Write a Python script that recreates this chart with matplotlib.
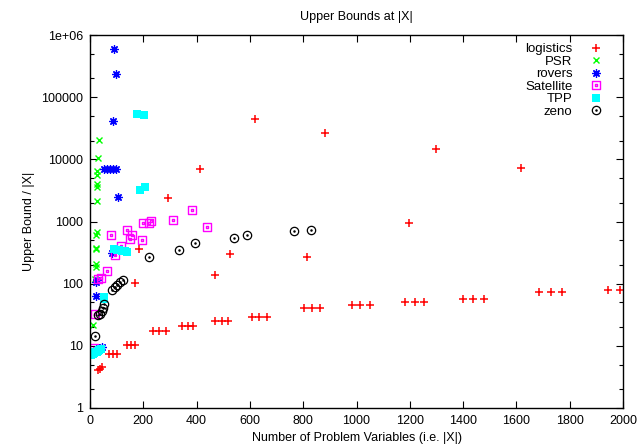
import numpy as np
import matplotlib
matplotlib.use('Agg')
import matplotlib.pyplot as plt
from matplotlib.path import Path
from matplotlib.ticker import LogLocator, FixedLocator, NullFormatter

plt.rcParams['font.family'] = ['Liberation Sans', 'DejaVu Sans']
plt.rcParams['font.size'] = 9

# ---------------- data ----------------
logistics_x = [29, 37, 45, 70, 85, 100, 140, 155, 170, 238, 260, 284,
               345, 367, 386, 469, 497, 518, 608, 633, 664, 803, 833, 863,
               983, 1013, 1050, 1182, 1218, 1254, 1399, 1439, 1478,
               1686, 1730, 1772, 1944, 1987,
               621, 882, 413, 293, 527, 469, 813, 1297, 1616, 1196, 184, 169]
logistics_y = [4.1, 4.3, 4.5, 7.3, 7.4, 7.4, 10.2, 10.2, 10.2, 17.3, 17.3, 17.3,
               21, 21, 21, 25.4, 25.4, 25.4, 29.4, 29.4, 29.4, 41, 41, 41,
               46, 46, 46, 51, 51, 51, 56, 56, 56,
               73, 73, 73, 80, 80,
               44500, 26500, 6900, 2360, 297, 139, 268, 14500, 7250, 946, 357, 104]

psr_x = [33, 29, 27, 26, 26, 26, 25, 25, 24, 24, 23, 21, 21, 20, 12]
psr_y = [20700, 10500, 6560, 5600, 3960, 3630, 2110, 690, 610, 380, 360,
         205, 182, 119, 22]

rovers_x = [90, 96, 86, 51, 64, 75, 86, 98, 104, 84, 25, 22, 22, 35, 45]
rovers_y = [602000, 233000, 41800, 7000, 7000, 7000, 7000, 7000, 2500,
            315, 115, 108, 64, 9.2, 9.5]

satellite_x = [384, 313, 228, 200, 222, 78, 140, 158, 151, 195, 118, 94,
               65, 40, 30, 19, 16, 440]
satellite_y = [1530, 1057, 1030, 957, 957, 606, 721, 606, 517, 498, 403, 292,
               160, 122, 118, 32, 9.4, 825]

tpp_x = [175, 203, 188, 208, 90, 100, 110, 120, 130, 138, 54, 54,
         5, 10, 15, 20, 25, 30, 35, 42]
tpp_y = [54200, 52200, 3250, 3630, 355, 350, 345, 340, 330, 320, 60, 56,
         7.0, 7.3, 7.6, 7.9, 8.1, 8.4, 8.7, 9.0]

zeno_x = [394, 334, 221, 539, 590, 767, 828, 84, 95, 103, 112, 125,
          29, 37, 45, 50, 54, 17]
zeno_y = [446, 349, 272, 537, 600, 695, 730, 80, 88, 96, 105, 115,
          31, 33, 37, 40, 47, 14.2]

x_ticks = [0, 200, 400, 600, 800, 1000, 1200, 1400, 1600, 1800, 2000]
y_ticks = [1, 10, 100, 1000, 10000, 100000, 1000000]
y_tick_labels = ['1', '10', '100', '1000', '10000', '100000', '1e+06']

# ---------------- marker shapes ----------------
sq = Path.unit_rectangle().transformed(
    matplotlib.transforms.Affine2D().translate(-0.5, -0.5))
small_sq = sq.transformed(matplotlib.transforms.Affine2D().scale(0.18))
box_dot = Path.make_compound_path(sq, small_sq)
circ = Path.unit_circle()
small_c = circ.transformed(matplotlib.transforms.Affine2D().scale(0.15))
circle_dot = Path.make_compound_path(circ, small_c)

# ---------------- plot ----------------
fig = plt.figure(figsize=(6.44, 4.47), dpi=100)
ax = fig.add_axes([90 / 644, 1 - 408 / 447, (623 - 90) / 644, (408 - 35) / 447])

ax.plot(logistics_x, logistics_y, ls='none', marker='+', ms=6, mew=1.1,
        color='#ff0000', label='logistics')
ax.plot(psr_x, psr_y, ls='none', marker='x', ms=5, mew=1.0,
        color='#00ff00', label='PSR')
ax.plot(rovers_x, rovers_y, ls='none', marker=(8, 2, 0), ms=6, mew=0.9,
        color='#0000ff', label='rovers')
ax.plot(satellite_x, satellite_y, ls='none', marker=box_dot, ms=6, mew=1.0,
        fillstyle='none', color='#ff00ff', label='Satellite')
ax.plot(tpp_x, tpp_y, ls='none', marker='s', ms=5.5, mew=0,
        color='#00ffff', label='TPP')
ax.plot(zeno_x, zeno_y, ls='none', marker=circle_dot, ms=6, mew=0.9,
        fillstyle='none', color='#000000', label='zeno')

ax.set_yscale('log')
ax.set_xlim(0, 2000)
ax.set_ylim(1, 1e6)
ax.xaxis.set_major_locator(FixedLocator(x_ticks))
ax.set_xticklabels([str(t) for t in x_ticks])
ax.yaxis.set_major_locator(FixedLocator(y_ticks))
ax.set_yticklabels(y_tick_labels)
ax.yaxis.set_minor_locator(LogLocator(base=10, subs=(2.0, 5.0)))
ax.yaxis.set_minor_formatter(NullFormatter())

ax.tick_params(which='both', direction='in', top=True, right=True,
               width=0.8, labelsize=9, pad=5)
ax.tick_params(which='major', length=5)
ax.tick_params(which='minor', length=3)
for s in ax.spines.values():
    s.set_linewidth(1.0)

ax.set_title('Upper Bounds at |X|', fontsize=9, pad=11)
ax.set_xlabel('Number of Problem Variables (i.e. |X|)', fontsize=9, labelpad=4)
ax.set_ylabel('Upper Bound / |X|', fontsize=9, labelpad=4)

ax.legend(loc='upper right', bbox_to_anchor=(0.982, 1.0), frameon=False,
          markerfirst=False, fontsize=9.5, handlelength=1.5,
          handletextpad=1.0, labelspacing=0.02, borderaxespad=0.4,
          borderpad=0.2)

fig.savefig('out.png', dpi=100)
